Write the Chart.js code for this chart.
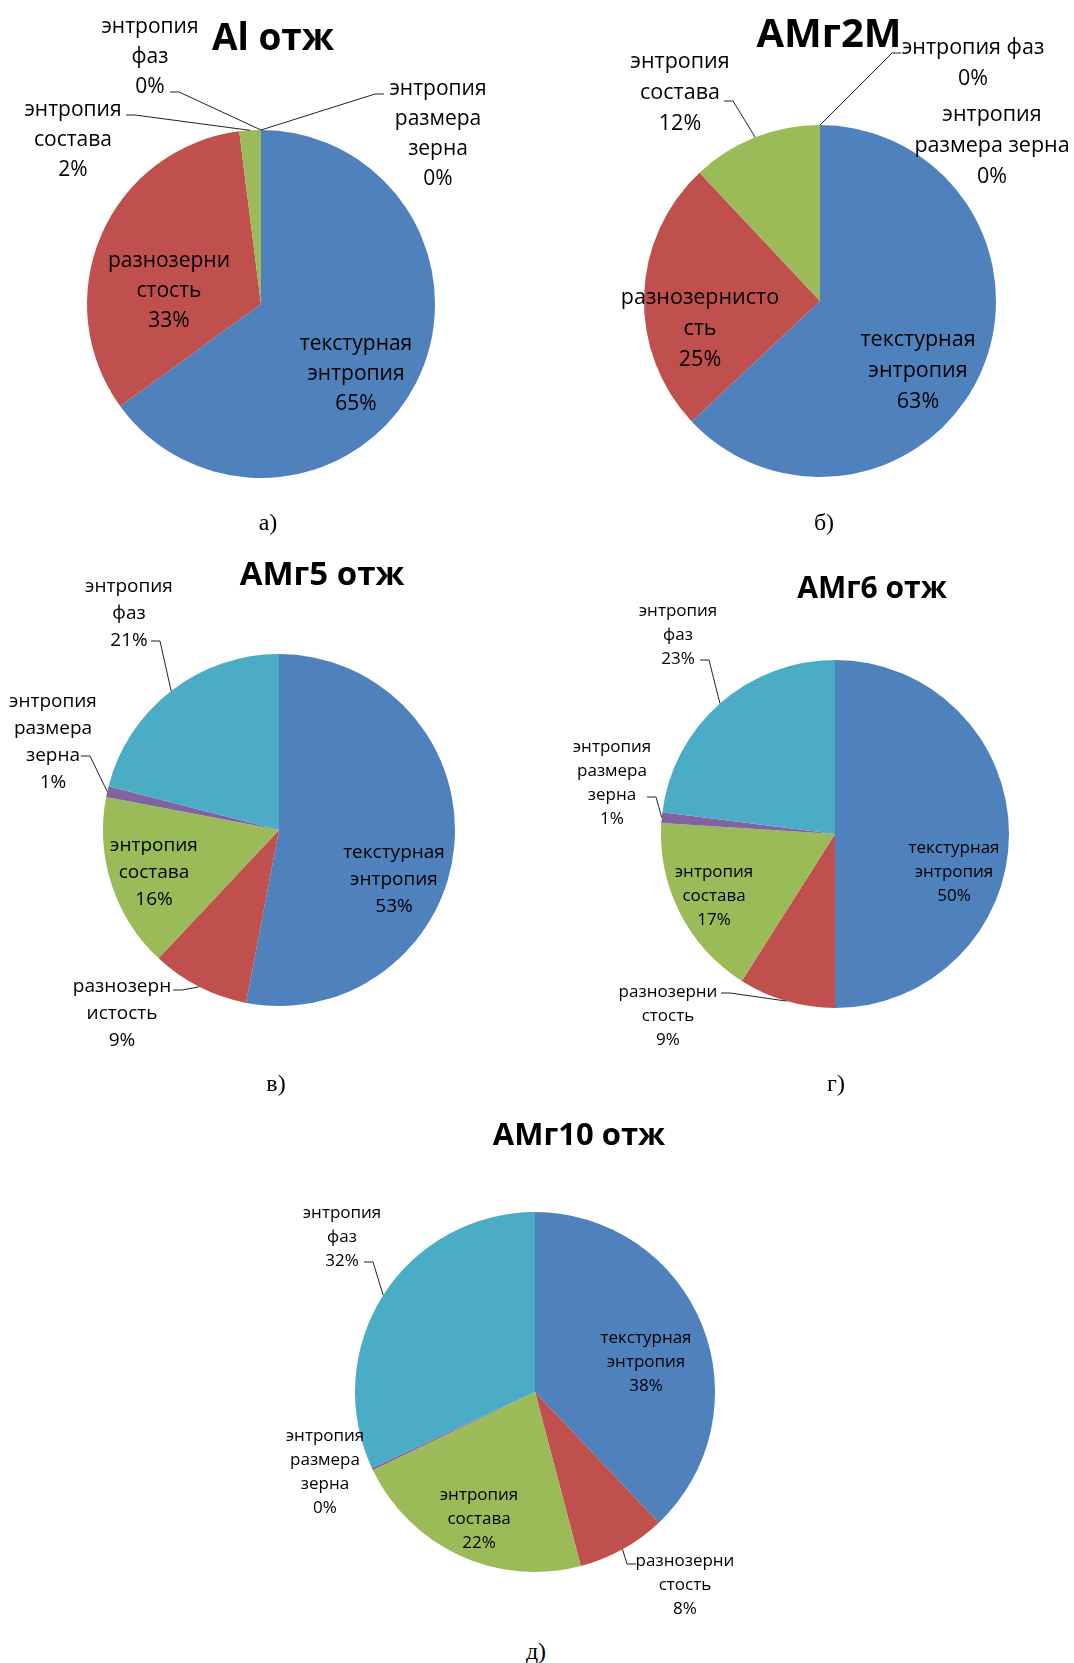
<!DOCTYPE html>
<html>
<head>
<meta charset="utf-8">
<script src="https://cdn.jsdelivr.net/npm/chart.js@4.4.1/dist/chart.umd.min.js"></script>
<style>
  body { margin: 0; background: #fff; width: 1074px; height: 1663px; position: relative; overflow: hidden; }
  canvas { position: absolute; }
  .cap { position: absolute; font-family: "Liberation Serif", serif; font-size: 24px; line-height: 24px; color: #000; transform: translateX(-50%); }
</style>
</head>
<body>
<canvas id="pieA"></canvas>
<canvas id="pieB"></canvas>
<canvas id="pieC"></canvas>
<canvas id="pieD"></canvas>
<canvas id="pieE"></canvas>
<div class="cap" style="left:268px;top:510px">а)</div>
<div class="cap" style="left:824px;top:510px">б)</div>
<div class="cap" style="left:276px;top:1071px">в)</div>
<div class="cap" style="left:836px;top:1071px">г)</div>
<div class="cap" style="left:536px;top:1639px">д)</div>
<script>
// categories, in the order they run clockwise from 12 o'clock
const categories = ["текстурная энтропия", "разнозернистость", "энтропия состава", "энтропия размера зерна", "энтропия фаз"];
const sliceColors = ["#4F81BD", "#C0504D", "#9BBB59", "#8064A2", "#4BACC6"];
const titles = ["Al отж", "АМг2М", "АМг5 отж", "АМг6 отж", "АМг10 отж"];

// percentages
const valuesAl = [65, 33, 2, 0, 0];
const valuesAMg2 = [63, 25, 12, 0, 0];
const valuesAMg5 = [53, 9, 16, 1, 21];
const valuesAMg6 = [50, 9, 17, 1, 23];
const valuesAMg10 = [38, 8, 22, 0.2, 32];

// label text split as in the picture (percent line is added from the data)
const labelLines = [
  [["текстурная", "энтропия"], ["разнозерни", "стость"], ["энтропия", "состава"], ["энтропия", "размера", "зерна"], ["энтропия", "фаз"]],
  [["текстурная", "энтропия"], ["разнозернисто", "сть"], ["энтропия", "состава"], ["энтропия", "размера зерна"], ["энтропия фаз"]],
  [["текстурная", "энтропия"], ["разнозерн", "истость"], ["энтропия", "состава"], ["энтропия", "размера", "зерна"], ["энтропия", "фаз"]],
  [["текстурная", "энтропия"], ["разнозерни", "стость"], ["энтропия", "состава"], ["энтропия", "размера", "зерна"], ["энтропия", "фаз"]],
  [["текстурная", "энтропия"], ["разнозерни", "стость"], ["энтропия", "состава"], ["энтропия", "размера", "зерна"], ["энтропия", "фаз"]]
];

// layout: canvas box, pie centre/radius (page px), title, label offsets from centre
const layouts = [
  { id: "pieA", box: [0, 0, 537, 505], cx: 261, cy: 304, r: 174, title: [273, 50, 37], size: 21, lh: 30,
    pos: [[95, 70], [-92, -13], [-188, -164, [-135, -189]], [177, -170, [123, -210]], [-111, -247, [-91, -212]]] },
  { id: "pieB", box: [537, 0, 537, 505], cx: 820, cy: 301, r: 176, title: [829, 47, 40], size: 21.5, lh: 31,
    pos: [[98, 70], [-120, 28], [-140, -208, [-96, -200]], [172, -155], [153, -238, [81, -248]]] },
  { id: "pieC", box: [0, 530, 537, 530], cx: 279, cy: 830, r: 176, title: [322, 585, 33], size: 19, lh: 27,
    pos: [[115, 50], [-157, 184, [-106, 160]], [-125, 43], [-226, -88, [-198, -74]], [-150, -216, [-128, -189]]] },
  { id: "pieD", box: [537, 530, 537, 530], cx: 835, cy: 834, r: 174, title: [872, 598, 30], size: 17, lh: 24,
    pos: [[119, 38], [-167, 182, [-114, 159]], [-121, 62], [-223, -51, [-188, -37]], [-157, -199, [-135, -174]]] },
  { id: "pieE", box: [0, 1090, 1074, 545], cx: 535, cy: 1392, r: 180, title: [579, 1145, 31], size: 17, lh: 24,
    pos: [[111, -30], [150, 193, [101, 172]], [-56, 127], [-210, 80], [-193, -155, [-171, -130]]] }
];
const allValues = [valuesAl, valuesAMg2, valuesAMg5, valuesAMg6, valuesAMg10];

// draws title, data labels and leader lines
const pieText = {
  id: "pieText",
  afterDatasetsDraw(chart, args, opts) {
    const ctx = chart.ctx;
    const meta = chart.getDatasetMeta(0);
    const vals = chart.data.datasets[0].data;
    ctx.save();
    ctx.fillStyle = "#000";
    ctx.textAlign = "center";
    ctx.textBaseline = "alphabetic";
    ctx.font = `bold ${opts.title[2]}px "Open Sans"`;
    ctx.fillText(opts.text, opts.title[0], opts.title[1]);

    ctx.font = `${opts.size}px "Open Sans"`;
    ctx.textBaseline = "middle";
    ctx.strokeStyle = "#222";
    ctx.lineWidth = 1;
    meta.data.forEach((arc, i) => {
      const p = opts.pos[i];
      const cx = arc.x, cy = arc.y;
      const lines = opts.lines[i].concat(Math.round(vals[i]) + "%");
      const n = lines.length;
      lines.forEach((t, k) => ctx.fillText(t, cx + p[0], cy + p[1] + (k - (n - 1) / 2) * opts.lh));
      if (p[2]) {
        const mid = (arc.startAngle + arc.endAngle) / 2;
        const ex = cx + Math.cos(mid) * arc.outerRadius;
        const ey = cy + Math.sin(mid) * arc.outerRadius;
        const sx = cx + p[2][0], sy = cy + p[2][1];
        const dir = ex > sx ? 1 : -1;
        ctx.beginPath();
        ctx.moveTo(sx, sy);
        ctx.lineTo(sx + dir * 9, sy);
        ctx.lineTo(ex, ey);
        ctx.stroke();
      }
    });
    ctx.restore();
  }
};

layouts.forEach((L, idx) => {
  const canvas = document.getElementById(L.id);
  const [bx, by, bw, bh] = L.box;
  canvas.style.left = bx + "px";
  canvas.style.top = by + "px";
  canvas.width = bw;
  canvas.height = bh;
  const lx = L.cx - bx, ly = L.cy - by;
  new Chart(canvas.getContext("2d"), {
    type: "pie",
    data: {
      labels: categories,
      datasets: [{
        data: allValues[idx],
        backgroundColor: sliceColors,
        borderWidth: 0
      }]
    },
    options: {
      responsive: false,
      animation: false,
      layout: {
        padding: { left: lx - L.r, top: ly - L.r, right: bw - lx - L.r, bottom: bh - ly - L.r }
      },
      plugins: {
        legend: { display: false },
        tooltip: { enabled: false },
        pieText: {
          text: titles[idx],
          title: [L.title[0] - bx, L.title[1] - by, L.title[2]],
          size: L.size,
          lh: L.lh,
          pos: L.pos,
          lines: labelLines[idx]
        }
      }
    },
    plugins: [pieText]
  });
});
</script>
</body>
</html>
